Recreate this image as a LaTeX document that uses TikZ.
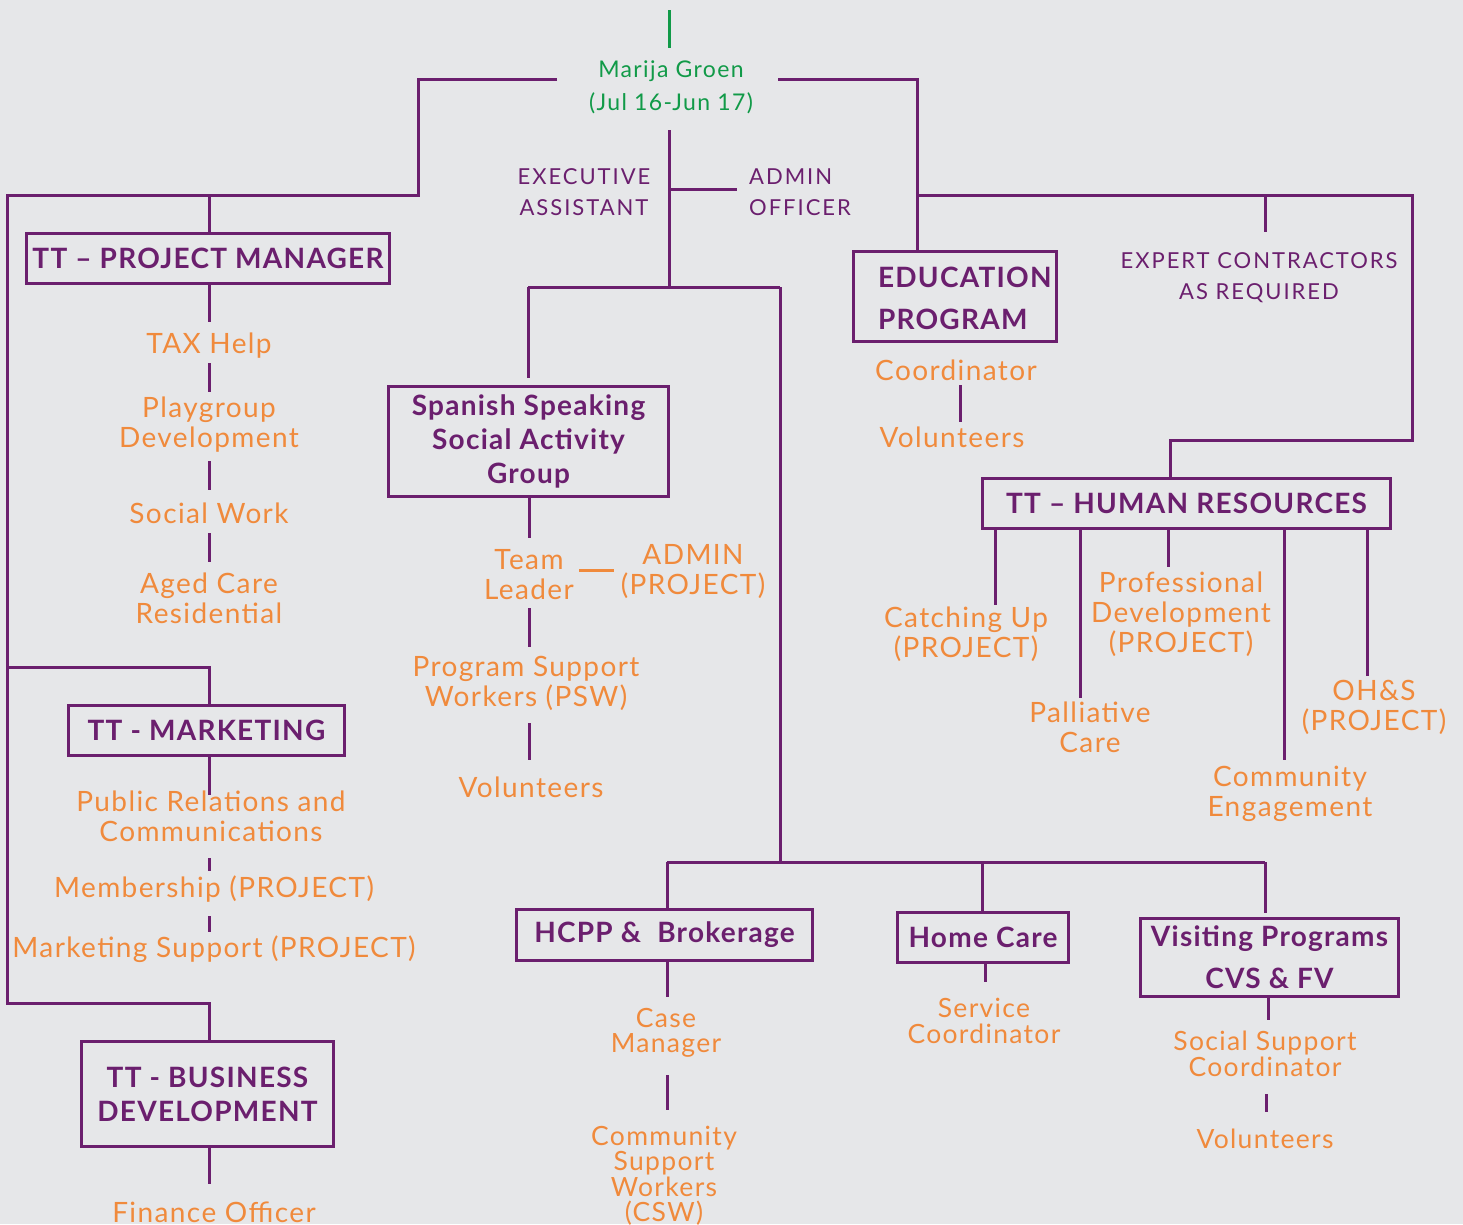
\documentclass[tikz,border=0pt]{standalone}
\usepackage{fontspec}
\setmainfont{Lato}
\newfontfamily\ofont[LetterSpace=5]{Lato}
\newfontfamily\bfont[LetterSpace=4.5]{Lato}
\newfontfamily\pfont[LetterSpace=9]{Lato}
\newfontfamily\gfont[LetterSpace=6]{Lato}
\definecolor{bg}{HTML}{E6E7E9}
\definecolor{purp}{HTML}{6B1F6E}
\definecolor{orng}{HTML}{F08A3C}
\definecolor{grn}{HTML}{119A48}
\begin{document}
\begin{tikzpicture}[x=1pt,y=-1pt,
  ln/.style={draw=purp,line width=3pt},
  gln/.style={draw=grn,line width=3pt},
  oln/.style={draw=orng,line width=3pt},
  box/.style={draw=purp,line width=3pt,text=purp,inner sep=0pt,align=center,
    font=\bfont\bfseries\fontsize{28}{34}\selectfont},
  otx/.style={text=orng,inner sep=0pt,align=center,font=\ofont\fontsize{28}{30}\selectfont},
  otxs/.style={text=orng,inner sep=0pt,align=center,font=\ofont\fontsize{26.5}{25.5}\selectfont},
  ptx/.style={text=purp,inner sep=0pt,font=\pfont\fontsize{22}{31}\selectfont},
  gtx/.style={text=grn,inner sep=0pt,align=center,font=\gfont\fontsize{23}{33}\selectfont}
]
\fill[bg] (0,0) rectangle (1463,1224);
\useasboundingbox (0,0) rectangle (1463,1224);

% ---------- top ----------
\node[gtx] (mg) at (671,87) {Marija Groen\\(Jul 16-Jun 17)};
\coordinate (top) at (669,10);
\draw[gln] (top) -- (669,48);
\coordinate (mgL) at (557,79);
\coordinate (mgR) at (778,79);
\coordinate (mgB) at (669,130);

\node[ptx,align=center] (exa) at (584,192) {EXECUTIVE\\ASSISTANT};
\node[ptx,align=left,anchor=west] (ado) at (749,192) {ADMIN\\OFFICER};
\node[ptx,align=center] (exp) at (1259,278) {EXPERT CONTRACTORS\\AS REQUIRED};

% ---------- boxes ----------
\node[box,minimum width=363pt,minimum height=50pt] (pm) at (208,258.5) {TT – PROJECT MANAGER};
\node[box,minimum width=276pt,minimum height=50pt] (mk) at (206.5,730.5) {TT - MARKETING};
\node[box,minimum width=252pt,minimum height=105pt] (bd) at (207.5,1094) {TT - BUSINESS\\DEVELOPMENT};
\node[box,minimum width=280pt,minimum height=110pt] (sp) at (528.5,441.5) {Spanish Speaking\\Social Activity\\Group};
\node[box,minimum width=203pt,minimum height=90pt,align=left,text width=154pt] (ed) at (955,296.5) {\rule{0pt}{24pt}EDUCATION\\[8pt]PROGRAM};
\node[box,minimum width=408pt,minimum height=50pt] (hr) at (1186.5,503.5) {TT – HUMAN RESOURCES};
\node[box,minimum width=296pt,minimum height=51pt] (hc) at (664.5,935) {HCPP \&\ \ Brokerage};
\node[box,minimum width=171pt,minimum height=50pt] (home) at (983,937.5) {Home Care};
\node[box,minimum width=258pt,minimum height=78pt] (vis) at (1269.5,957.5) {Visiting Programs\\[8pt]CVS \& FV};

% ---------- orange texts ----------
\node[otx] (tax) at (209,346) {TAX Help};
\node[otx] (play) at (209,425) {Playgroup\\Development};
\node[otx] (sw) at (209,513) {Social Work};
\node[otx] (aged) at (209,598) {Aged Care\\Residential};
\node[otx] (pr) at (211,816) {Public Relations and\\Communications};
\node[otx] (mem) at (214,889) {Membership (PROJECT)};
\node[otx] (ms) at (214,949) {Marketing Support (PROJECT)};
\node[otx] (fin) at (214,1212) {Finance Officer};

\node[otx] (tl) at (529,575) {Team\\Leader};
\node[otx] (adm) at (693,572) {ADMIN\\(PROJECT)};
\node[otx] (psw) at (526,683) {Program Support\\Workers (PSW)};
\node[otx] (vol1) at (531,787) {Volunteers};

\node[otx] (coord) at (956,370) {Coordinator};
\node[otx] (vol2) at (952,437) {Volunteers};

\node[otx] (cu) at (966,634) {Catching Up\\(PROJECT)};
\node[otx] (pd) at (1181,614) {Professional\\Development\\(PROJECT)};
\node[otx] (pc) at (1090,727) {Palliative\\Care};
\node[otx] (ohs) at (1374,707) {OH\&S\\(PROJECT)};
\node[otx] (ce) at (1290,794) {Community\\Engagement};

\node[otxs] (cm) at (666,1033) {Case\\Manager};
\node[otxs] (csw) at (664,1176) {Community\\Support\\Workers\\(CSW)};
\node[otxs] (sc) at (984,1021) {Service\\Coordinator};
\node[otxs] (ssc) at (1265,1054) {Social Support\\Coordinator};
\node[otxs] (vol3) at (1265,1139) {Volunteers};

% ---------- trunk connectors ----------
\coordinate (jL) at (7,195);
\draw[ln] (mgL) -- (418,79) -- (418,195) -- (jL) -- (7,1003) -- (209,1003) -- (209,1003 |- bd.north);
\draw[ln] (209,195) -- (209,195 |- pm.north);
\draw[ln] (7,667) -- (209,667) -- (209,667 |- mk.north);
\draw[ln] (mgR) -- (917,79) -- (917,79 |- ed.north);
\draw[ln] (917,195) -- (1412,195) -- (1412,440) -- (1170,440) -- (1170,440 |- hr.north);
\draw[ln] (1265,195) -- (1265,232);
\draw[ln] (mgB) -- (669,287);
\draw[ln] (669,189) -- (737,189);
\draw[ln] (528,287) -- (780,287);
\draw[ln] (528,287) -- (528,378);
\draw[ln] (780,287) -- (780,862);
\draw[ln] (667,862) -- (1265,862);
\draw[ln] (667,862) -- (667,862 |- hc.north);
\draw[ln] (982,862) -- (982,862 |- home.north);
\draw[ln] (1265,862) -- (1265,913);

% ---------- branch connectors ----------
\draw[ln] (pm.south -| 209,0) -- (209,322);
\draw[ln] (209,363) -- (209,392);
\draw[ln] (209,461) -- (209,490);
\draw[ln] (209,533) -- (209,562);
\draw[ln] (mk.south -| 209,0) -- (209,795);
\draw[ln] (209,858) -- (209,871);
\draw[ln] (209,916) -- (209,932);
\draw[ln] (bd.south -| 209,0) -- (209,1184);

\draw[ln] (sp.south -| 529,0) -- (529,538);
\draw[ln] (529,608) -- (529,647);
\draw[ln] (529,723) -- (529,760);
\draw[oln] (579,570) -- (614,570);

\draw[ln] (960,385) -- (960,422);

\draw[ln] (hr.south -| 995,0) -- (995,605);
\draw[ln] (hr.south -| 1080,0) -- (1080,698);
\draw[ln] (hr.south -| 1168,0) -- (1168,567);
\draw[ln] (hr.south -| 1284,0) -- (1284,760);
\draw[ln] (hr.south -| 1367,0) -- (1367,676);

\draw[ln] (hc.south -| 667,0) -- (667,997);
\draw[ln] (667,1075) -- (667,1110);
\draw[ln] (home.south -| 985,0) -- (985,982);
\draw[ln] (vis.south -| 1268,0) -- (1268,1020);
\draw[ln] (1266,1094) -- (1266,1112);
\end{tikzpicture}
\end{document}
